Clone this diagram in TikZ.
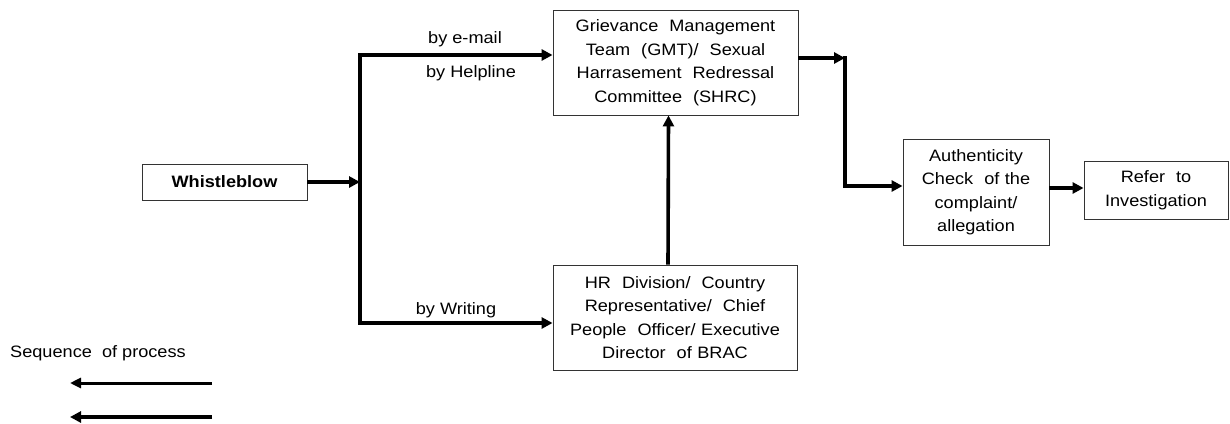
\documentclass[tikz,border=0pt]{standalone}
\usepackage{fontspec}
\setmainfont{Liberation Sans}[FakeStretch=1.1]
\usetikzlibrary{arrows.meta}
\tikzset{
  box/.style={draw=black!80, line width=0.9pt, align=center, inner sep=0pt,
    font=\fontsize{16.5}{23.5}\selectfont},
  arr/.style={line width=3.6pt, -{Triangle[length=11pt,width=11pt]}},
  lbl/.style={font=\fontsize{16.5}{20}\selectfont, inner sep=0pt},
}
\begin{document}
\begin{tikzpicture}[x=1pt,y=-1pt]
\useasboundingbox (0,0) rectangle (1230,423);
% boxes
\node[box, minimum width=165pt, minimum height=36pt, font=\fontsize{16.5}{20}\selectfont\bfseries] (wb) at (224.5,182) {Whistleblow};
\node[box, minimum width=245pt, minimum height=105pt, text width=235pt] (gmt) at (675.5,62.5)
  {Grievance\ \ Management\\ Team\ \ (GMT)/\ \ Sexual\\ Harrasement\ \ Redressal\\ Committee\ \ (SHRC)};
\node[box, minimum width=244pt, minimum height=105pt, text width=235pt] (hr) at (675,317.5)
  {HR\ \ Division/\ \ Country\\ Representative/\ \ Chief\\ People\ \ Officer/\ Executive\\ Director\ \ of\ BRAC};
\node[box, minimum width=146pt, minimum height=106pt, text width=140pt] (auth) at (976,192)
  {Authenticity\\ Check\ \ of\ the\\ complaint/\\ allegation};
\node[box, minimum width=144pt, minimum height=58pt, text width=140pt] (ref) at (1156,190)
  {Refer\ \ to\\ Investigation};
% labels
\node[lbl] (le) at (465,39) {by e-mail};
\node[lbl] (lh) at (471,73) {by Helpline};
\node[lbl] (lw) at (456,310) {by Writing};
\node[lbl, anchor=west] (seq) at (10,353) {Sequence\ \ of process};
% coordinates
\coordinate (j) at (360,182);
\coordinate (ct) at (360,55);
\coordinate (cb) at (360,323);
\coordinate (c1) at (845,58);
\coordinate (c2) at (845,186);
\coordinate (l1s) at (212,383);
\coordinate (l1e) at (70,383);
\coordinate (l2s) at (212,417);
\coordinate (l2e) at (70,417);
% connectors
\draw[arr] (wb.east) -- (j);
\draw[line width=3.6pt] ([yshift=1.8pt]ct) -- ([yshift=-1.8pt]cb);
\draw[arr] ([xshift=-1.8pt]ct) -- (ct -| gmt.west);
\draw[arr] ([xshift=-1.8pt]cb) -- (cb -| hr.west);
\draw[arr] ([xshift=-7pt]hr.north) -- ([xshift=-7pt]gmt.south);
\draw[arr] (gmt.east |- c1) -- (c1);
\draw[arr] ([yshift=1.8pt]c1) -- (c2) -- (c2 -| auth.west);
\draw[arr] (auth.east |- 0,188) -- (ref.west |- 0,188);
% legend
\draw[line width=3pt, -{Triangle[length=11pt,width=10pt]}] (l1s) -- (l1e);
\draw[line width=4pt, -{Triangle[length=11pt,width=11pt]}] (l2s) -- (l2e);
\end{tikzpicture}
\end{document}
